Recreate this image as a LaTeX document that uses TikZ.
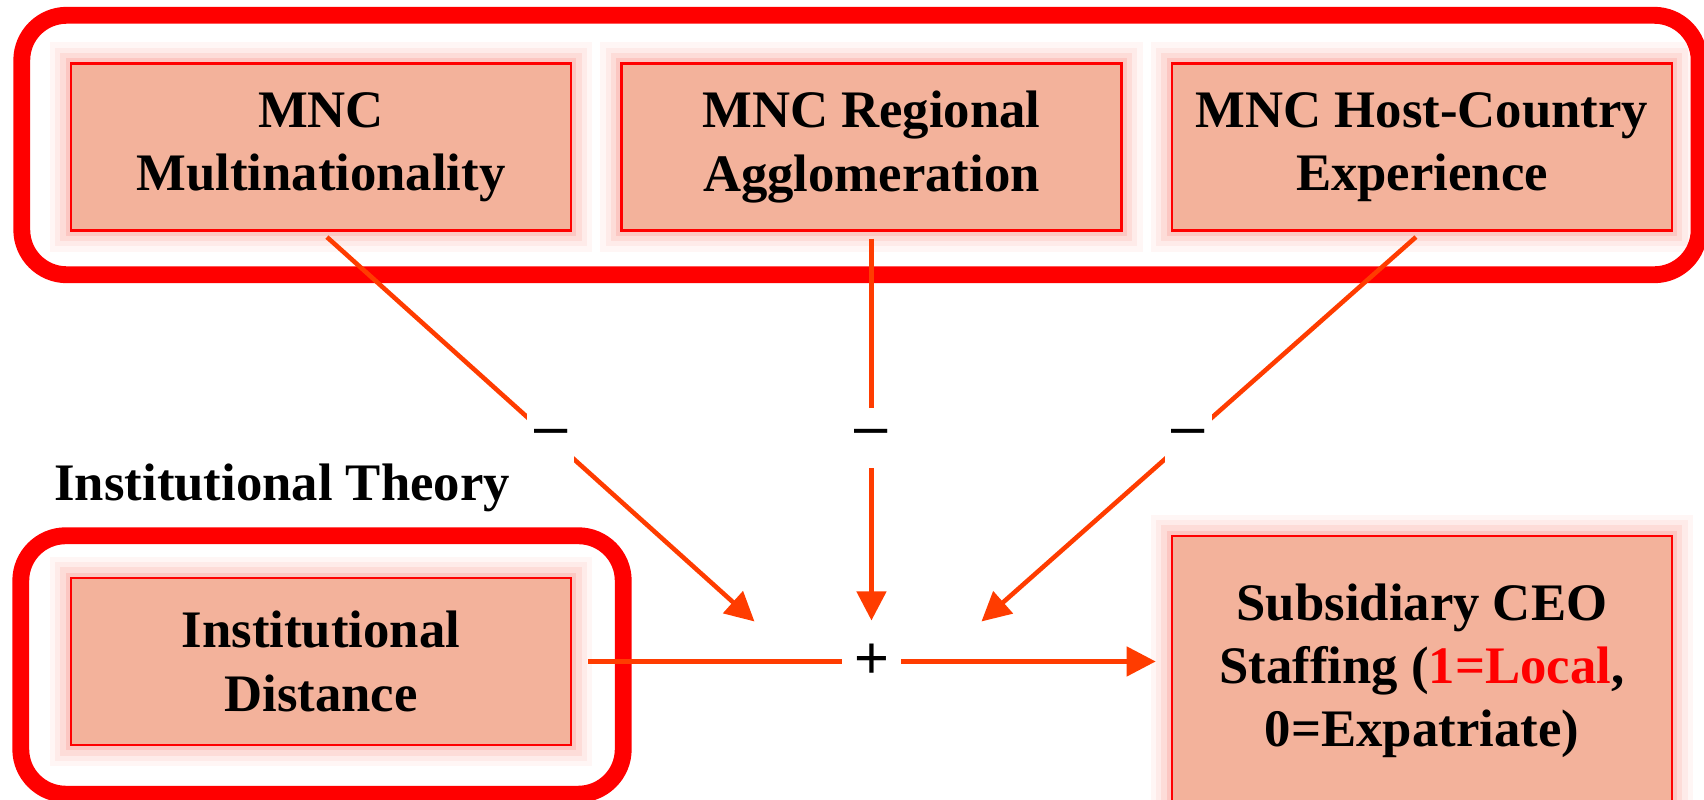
\documentclass[tikz,border=0pt]{standalone}
\usepackage{fontspec}
\setmainfont{Liberation Serif}
\newfontfamily\signfont{Liberation Sans}
\usetikzlibrary{calc, positioning, arrows.meta}
\definecolor{boxfill}{RGB}{243,178,155}
\definecolor{linkred}{RGB}{255,60,0}

\begin{document}
\begin{tikzpicture}[>={Triangle[length=0.29cm, width=0.29cm]}, node distance=0.48cm, every node/.style={font=\bfseries\fontsize{15}{18}\selectfont}]
  \tikzset{block/.style={draw=red, line width=0.7pt, fill=boxfill, minimum width=5cm, minimum height=1.67cm, align=center, inner sep=0pt,
      preaction={draw=boxfill!60!red, line width=12pt, opacity=0.06},
      preaction={draw=boxfill!60!red, line width=9pt, opacity=0.08},
      preaction={draw=boxfill!60!red, line width=6pt, opacity=0.12},
      preaction={draw=boxfill!60!red, line width=3pt, opacity=0.18}},
    frame/.style={draw=red, line width=4.8pt, rounded corners=0.45cm},
    link/.style={draw=linkred, line width=1.3pt},
    sign/.style={font=\signfont\fontsize{17}{17}\selectfont, fill=white, minimum width=0.47cm, minimum height=0.6cm, inner sep=0pt}}
  \useasboundingbox (0,0) rectangle (17.04,-7.99);

  \node[block] (mult) at (3.21,-1.47) {MNC\\Multinationality};
  \node[block, right=of mult] (region) {MNC Regional\\Agglomeration};
  \node[block, right=of region] (host) {MNC Host-Country\\Experience};
  \node[block, below=3.45cm of mult] (dist) {Institutional\\Distance};
  \node[block, minimum height=2.7cm, below=3.03cm of host] (ceo) {Subsidiary CEO\\Staffing (\textcolor{red}{1=Local},\\0=Expatriate)};

  % frames round the two groups
  \draw[frame] ($(mult.north west)+(-0.48,0.47)$) rectangle ($(host.south east)+(0.26,-0.43)$);
  \draw[frame] ($(dist.north west)+(-0.49,0.41)$) rectangle ($(dist.south east)+(0.51,-0.48)$);
  \node[anchor=base west, inner sep=0pt] (theory) at ($(dist.north west)+(-0.16,0.76)$) {Institutional Theory};

  \node[sign, minimum width=0.58cm] (plus) at (region |- dist) {+};
  \coordinate (inA) at ($(plus)+(-1.17,0.4)$);
  \coordinate (inB) at ($(plus)+(0,0.41)$);
  \coordinate (inC) at ($(plus)+(1.1,0.4)$);

  \draw[link, ->, shorten <=0.08cm] (mult.south) -- (inA) node[sign, pos=0.53] (minA) {–};
  \draw[link, ->, shorten <=0.07cm] (region.south) -- (inB) node[sign, pos=0.53] (minB) {–};
  \draw[link, ->, shorten <=0.08cm] (host.south) -- (inC) node[sign, pos=0.53] (minC) {–};
  \draw[link, shorten <=0.16cm] (dist.east) -- (plus.west);
  \draw[link, ->, shorten >=0.15cm] (plus.east) -- (plus.east -| ceo.west);
\end{tikzpicture}
\end{document}
